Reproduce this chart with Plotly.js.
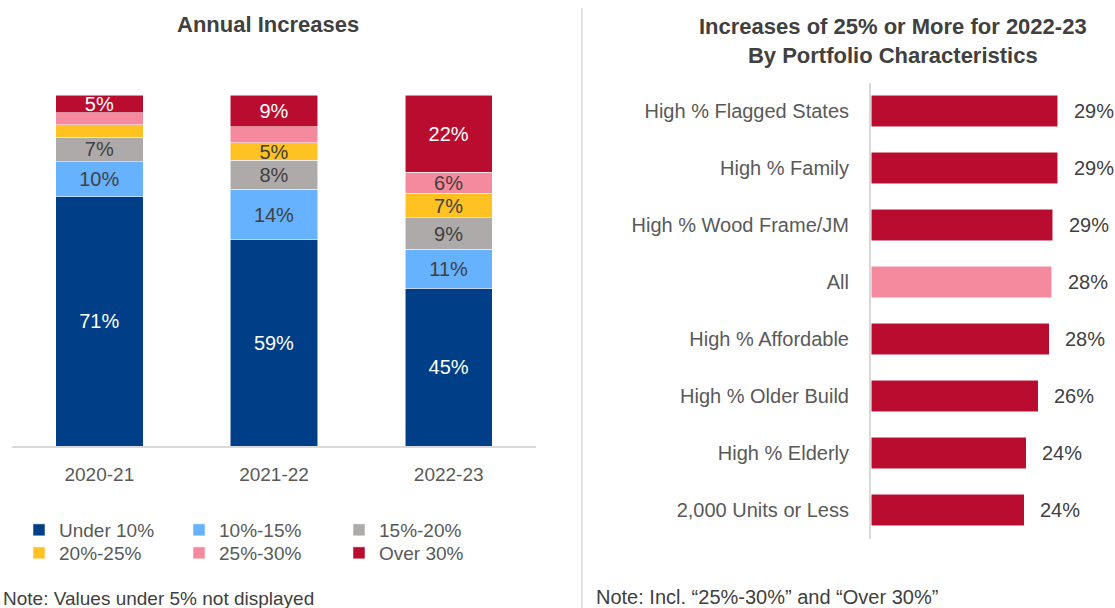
<!DOCTYPE html>
<html><head><meta charset="utf-8">
<script src="https://cdn.plot.ly/plotly-3.0.1.min.js"></script>
<style>html,body{margin:0;padding:0;background:#fff}#chart{width:1115px;height:608px}</style>
</head><body><div id="chart"></div>
<script>
// ---- data ----
const years = ['2020-21', '2021-22', '2022-23'];
const seriesNames = ['Under 10%', '10%-15%', '15%-20%', '20%-25%', '25%-30%', 'Over 30%'];
const under10 = [71, 58.7, 45];
const p10to15 = [10, 14.4, 11];
const p15to20 = [7, 8.3, 9];
const p20to25 = [3.5, 5, 7];
const p25to30 = [3.5, 4.5, 6];
const over30 = [5, 9.1, 22];
const characteristics = ['High % Flagged States', 'High % Family', 'High % Wood Frame/JM', 'All',
  'High % Affordable', 'High % Older Build', 'High % Elderly', '2,000 Units or Less'];
const share25plus = [29.4, 29.4, 28.6, 28.4, 28.0, 26.3, 24.4, 24.1];

// ---- styles ----
const seriesColors = ['#003F87', '#66B2FF', '#AEAAAA', '#FFC222', '#F58A9E', '#BA0C2F'];
const labelColors = ['#FFFFFF', '#404040', '#404040', '#404040', '#404040', '#FFFFFF'];
const FONT = '"Liberation Sans Narrow", "Arial Narrow", "Liberation Sans", Arial, sans-serif';
const W = 1115, H = 608;
const px = v => v / W;
const py = v => 1 - v / H;

const seriesValues = [under10, p10to15, p15to20, p20to25, p25to30, over30];
const traces = seriesValues.map((vals, i) => ({
  type: 'bar',
  name: seriesNames[i],
  x: years,
  y: vals,
  width: 0.5,
  xaxis: 'x', yaxis: 'y',
  legend: i < 3 ? 'legend' : 'legend2',
  marker: {color: seriesColors[i], line: {color: 'rgba(255,255,255,0.7)', width: 0.75}},
  text: vals.map(v => v >= 5 ? Math.round(v) + '%' : ''),
  textposition: 'inside',
  insidetextanchor: 'middle',
  textangle: 0,
  constraintext: 'none',
  textfont: {family: FONT, size: 20, color: labelColors[i]},
  hoverinfo: 'x+y+name'
}));

traces.push({
  type: 'bar',
  orientation: 'h',
  x: share25plus,
  y: characteristics,
  width: 0.56,
  xaxis: 'x2', yaxis: 'y2',
  showlegend: false,
  marker: {
    color: characteristics.map(c => c === 'All' ? '#F58A9E' : '#BA0C2F'),
    line: {color: 'rgba(255,255,255,0.7)', width: 0.75}
  },
  hoverinfo: 'x+y'
});

const annotations = [
  {text: '<b>Annual Increases</b>', x: px(268), y: py(24), xref: 'paper', yref: 'paper',
   xanchor: 'center', yanchor: 'middle', showarrow: false, font: {family: FONT, size: 22, color: '#404040'}},
  {text: '<b>Increases of 25% or More for 2022-23<br>By Portfolio Characteristics</b>', x: px(893), y: py(41),
   xref: 'paper', yref: 'paper', xanchor: 'center', yanchor: 'middle', showarrow: false,
   font: {family: FONT, size: 22, color: '#404040'}},
  {text: 'Note: Values under 5% not displayed', x: px(1), y: py(598), xref: 'paper', yref: 'paper',
   xanchor: 'left', yanchor: 'middle', showarrow: false, font: {family: FONT, size: 19, color: '#404040'}},
  {text: 'Note: Incl. \u201C25%-30%\u201D and \u201COver 30%\u201D', x: px(594), y: py(597), xref: 'paper', yref: 'paper',
   xanchor: 'left', yanchor: 'middle', showarrow: false, font: {family: FONT, size: 20, color: '#404040'}}
];
share25plus.forEach((v, i) => {
  annotations.push({
    text: Math.round(v) + '%', x: v, y: characteristics[i], xref: 'x2', yref: 'y2',
    xanchor: 'left', yanchor: 'middle', xshift: 14, showarrow: false,
    font: {family: FONT, size: 20, color: '#404040'}
  });
});

const legendCommon = {
  orientation: 'h', xanchor: 'left', yanchor: 'top', xref: 'paper', yref: 'paper',
  entrywidth: 115, entrywidthmode: 'pixels', itemwidth: 30,
  font: {family: FONT, size: 19, color: '#595959'}, bgcolor: 'rgba(0,0,0,0)',
  traceorder: 'normal', itemclick: false, itemdoubleclick: false
};

const layout = {
  width: W, height: H,
  margin: {l: 0, r: 0, t: 0, b: 0},
  paper_bgcolor: '#FFFFFF', plot_bgcolor: '#FFFFFF',
  barmode: 'stack',
  font: {family: FONT, color: '#595959'},
  showlegend: true,
  legend: Object.assign({}, legendCommon, {x: px(19), y: py(511)}),
  legend2: Object.assign({}, legendCommon, {x: px(19), y: py(534)}),
  xaxis: {
    domain: [px(12), px(536)], anchor: 'y',
    showline: true, linecolor: '#D9D9D9', linewidth: 2,
    ticks: '', showgrid: false, zeroline: false, ticklabelstandoff: 10,
    tickfont: {family: FONT, size: 19, color: '#595959'}, fixedrange: true
  },
  yaxis: {
    domain: [py(446), py(95)], anchor: 'x', range: [0, 100],
    visible: false, fixedrange: true
  },
  xaxis2: {
    domain: [px(871), px(1093.6)], anchor: 'y2', range: [0, 35],
    visible: false, fixedrange: true
  },
  yaxis2: {
    domain: [py(538.5), py(82.5)], anchor: 'x2', autorange: 'reversed',
    showline: true, linecolor: '#D9D9D9', linewidth: 2,
    ticks: '', showgrid: false, zeroline: false, ticklabelstandoff: 16,
    tickfont: {family: FONT, size: 20, color: '#595959'}, fixedrange: true
  },
  annotations: annotations,
  shapes: [
    {type: 'line', xref: 'paper', yref: 'paper', x0: px(582), x1: px(582), y0: py(608), y1: py(8),
     line: {color: '#D9D9D9', width: 1.5}}
  ]
};

Plotly.newPlot('chart', traces, layout, {displayModeBar: false});
</script>
</body></html>
